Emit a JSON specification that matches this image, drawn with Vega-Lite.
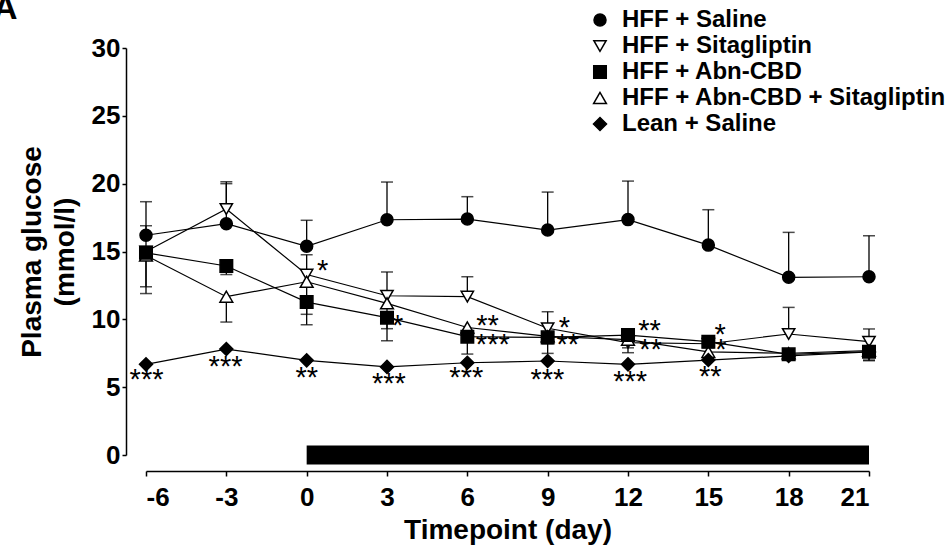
{
  "$schema": "https://vega.github.io/schema/vega-lite/v6.json",
  "width": 723,
  "height": 407,
  "autosize": {"type": "none"},
  "padding": {"left": 146, "top": 48, "right": 81, "bottom": 94},
  "background": "white",
  "title": {"text": "A", "anchor": "start", "frame": "group", "fontSize": 34, "fontWeight": "bold", "font": "Liberation Sans", "color": "black", "dx": -153, "dy": 45, "baseline": "alphabetic", "offset": 0},
  "config": {"view": {"stroke": null}, "font": "Liberation Sans"},
  "datasets": {
    "glucose": [
      {"day": -6, "group": "HFF + Saline", "mean": 16.2, "err": 18.67},
      {"day": -3, "group": "HFF + Saline", "mean": 17.05, "err": 20.0},
      {"day": 0, "group": "HFF + Saline", "mean": 15.38, "err": 17.3},
      {"day": 3, "group": "HFF + Saline", "mean": 17.34, "err": 20.12},
      {"day": 6, "group": "HFF + Saline", "mean": 17.39, "err": 19.04},
      {"day": 9, "group": "HFF + Saline", "mean": 16.58, "err": 19.38},
      {"day": 12, "group": "HFF + Saline", "mean": 17.35, "err": 20.19},
      {"day": 15, "group": "HFF + Saline", "mean": 15.47, "err": 18.08},
      {"day": 18, "group": "HFF + Saline", "mean": 13.1, "err": 16.41},
      {"day": 21, "group": "HFF + Saline", "mean": 13.14, "err": 16.16},
      {"day": -6, "group": "HFF + Sitagliptin", "mean": 15.0, "err": 16.9},
      {"day": -3, "group": "HFF + Sitagliptin", "mean": 18.13, "err": 20.14},
      {"day": 0, "group": "HFF + Sitagliptin", "mean": 13.3, "err": 14.76},
      {"day": 3, "group": "HFF + Sitagliptin", "mean": 11.74, "err": 13.49},
      {"day": 6, "group": "HFF + Sitagliptin", "mean": 11.67, "err": 13.14},
      {"day": 9, "group": "HFF + Sitagliptin", "mean": 9.34, "err": 10.56},
      {"day": 12, "group": "HFF + Sitagliptin", "mean": 8.28, "err": 8.7},
      {"day": 15, "group": "HFF + Sitagliptin", "mean": 8.2, "err": 8.6},
      {"day": 18, "group": "HFF + Sitagliptin", "mean": 8.92, "err": 10.88},
      {"day": 21, "group": "HFF + Sitagliptin", "mean": 8.35, "err": 9.29},
      {"day": -6, "group": "HFF + Abn-CBD + Sitagliptin", "mean": 14.7, "err": 11.9},
      {"day": -3, "group": "HFF + Abn-CBD + Sitagliptin", "mean": 11.67, "err": 9.8},
      {"day": 0, "group": "HFF + Abn-CBD + Sitagliptin", "mean": 12.77, "err": 9.6},
      {"day": 3, "group": "HFF + Abn-CBD + Sitagliptin", "mean": 11.18, "err": 8.42},
      {"day": 6, "group": "HFF + Abn-CBD + Sitagliptin", "mean": 9.4, "err": 8.9},
      {"day": 9, "group": "HFF + Abn-CBD + Sitagliptin", "mean": 8.75, "err": 8.2},
      {"day": 12, "group": "HFF + Abn-CBD + Sitagliptin", "mean": 8.5, "err": 7.54},
      {"day": 15, "group": "HFF + Abn-CBD + Sitagliptin", "mean": 7.6, "err": 7.2},
      {"day": 18, "group": "HFF + Abn-CBD + Sitagliptin", "mean": 7.5, "err": 7.1},
      {"day": 21, "group": "HFF + Abn-CBD + Sitagliptin", "mean": 7.7, "err": 6.95},
      {"day": -6, "group": "HFF + Abn-CBD", "mean": 14.9, "err": 12.4},
      {"day": -3, "group": "HFF + Abn-CBD", "mean": 13.93, "err": 13.3},
      {"day": 0, "group": "HFF + Abn-CBD", "mean": 11.27, "err": 10.37},
      {"day": 3, "group": "HFF + Abn-CBD", "mean": 10.12, "err": 9.31},
      {"day": 6, "group": "HFF + Abn-CBD", "mean": 8.72, "err": 7.44},
      {"day": 9, "group": "HFF + Abn-CBD", "mean": 8.67, "err": 7.49},
      {"day": 12, "group": "HFF + Abn-CBD", "mean": 8.84, "err": 7.9},
      {"day": 15, "group": "HFF + Abn-CBD", "mean": 8.35, "err": 7.9},
      {"day": 18, "group": "HFF + Abn-CBD", "mean": 7.42, "err": 7.0},
      {"day": 21, "group": "HFF + Abn-CBD", "mean": 7.61, "err": 7.0},
      {"day": -6, "group": "Lean + Saline", "mean": 6.68, "err": 6.68},
      {"day": -3, "group": "Lean + Saline", "mean": 7.81, "err": 7.81},
      {"day": 0, "group": "Lean + Saline", "mean": 6.98, "err": 6.98},
      {"day": 3, "group": "Lean + Saline", "mean": 6.49, "err": 6.49},
      {"day": 6, "group": "Lean + Saline", "mean": 6.8, "err": 6.8},
      {"day": 9, "group": "Lean + Saline", "mean": 6.93, "err": 6.93},
      {"day": 12, "group": "Lean + Saline", "mean": 6.68, "err": 6.68},
      {"day": 15, "group": "Lean + Saline", "mean": 7.0, "err": 7.0},
      {"day": 18, "group": "Lean + Saline", "mean": 7.3, "err": 7.3},
      {"day": 21, "group": "Lean + Saline", "mean": 7.6, "err": 7.6}
    ],
    "stars": [
      {"day": -5.98, "level": 5.55, "label": "***"},
      {"day": -3.03, "level": 6.46, "label": "***"},
      {"day": 0, "level": 5.67, "label": "**"},
      {"day": 3.07, "level": 5.26, "label": "***"},
      {"day": 5.96, "level": 5.65, "label": "***"},
      {"day": 8.99, "level": 5.55, "label": "***"},
      {"day": 12.08, "level": 5.38, "label": "***"},
      {"day": 15.07, "level": 5.72, "label": "**"},
      {"day": 0.6, "level": 13.58, "label": "*"},
      {"day": 3.4, "level": 9.48, "label": "*"},
      {"day": 6.75, "level": 9.53, "label": "**"},
      {"day": 6.95, "level": 8.13, "label": "***"},
      {"day": 9.62, "level": 9.36, "label": "*"},
      {"day": 9.75, "level": 8.13, "label": "**"},
      {"day": 12.8, "level": 9.11, "label": "**"},
      {"day": 12.84, "level": 7.71, "label": "**"},
      {"day": 15.44, "level": 8.87, "label": "*"},
      {"day": 15.47, "level": 7.76, "label": "*"}
    ],
    "treatment": [
      {"start": 0, "end": 21, "level": 0}
    ]
  },
  "layer": [
    {
      "data": {"name": "treatment"},
      "mark": {"type": "rule", "color": "black", "strokeWidth": 19, "strokeCap": "butt"},
      "encoding": {
        "x": {"field": "start", "type": "quantitative", "scale": {"domain": [-6, 21], "nice": false, "zero": false},
          "axis": {"values": [-6, -3, 0, 3, 6, 9, 12, 15, 18, 21], "labelExpr": "toString(datum.value)", "offset": 16, "tickSize": 5, "labelPadding": 8, "labelFontSize": 26, "labelFontWeight": "bold", "labelColor": "black", "labelFont": "Liberation Sans", "title": "Timepoint (day)", "titleFontSize": 28, "titleFontWeight": "bold", "titleColor": "black", "titleFont": "Liberation Sans", "titlePadding": 6, "grid": false, "domainColor": "black", "tickColor": "black", "domainWidth": 1.5, "tickWidth": 1.5}},
        "x2": {"field": "end"},
        "y": {"field": "level", "type": "quantitative", "scale": {"domain": [0, 30], "nice": false, "zero": false},
          "axis": {"values": [0, 5, 10, 15, 20, 25, 30], "offset": 20, "tickSize": 4, "labelPadding": 2, "labelFontSize": 26, "labelFontWeight": "bold", "labelColor": "black", "labelFont": "Liberation Sans", "title": ["Plasma glucose", "(mmol/l)"], "titleFontSize": 28, "titleFontWeight": "bold", "titleColor": "black", "titleFont": "Liberation Sans", "titlePadding": 12, "titleLineHeight": 33, "grid": false, "domainColor": "black", "tickColor": "black", "domainWidth": 1.5, "tickWidth": 1.5}}
      }
    },
    {
      "data": {"name": "glucose"},
      "mark": {"type": "rule", "color": "black", "strokeWidth": 1.3},
      "encoding": {
        "x": {"field": "day", "type": "quantitative"},
        "y": {"field": "mean", "type": "quantitative"},
        "y2": {"field": "err"}
      }
    },
    {
      "data": {"name": "glucose"},
      "mark": {"type": "tick", "orient": "horizontal", "color": "black", "size": 12, "thickness": 1.5},
      "encoding": {
        "x": {"field": "day", "type": "quantitative"},
        "y": {"field": "err", "type": "quantitative"}
      }
    },
    {
      "data": {"name": "glucose"},
      "mark": {"type": "line", "color": "black", "strokeWidth": 1.2},
      "encoding": {
        "x": {"field": "day", "type": "quantitative"},
        "y": {"field": "mean", "type": "quantitative"},
        "detail": {"field": "group"}
      }
    },
    {
      "data": {"name": "glucose"},
      "mark": {"type": "point", "filled": true, "stroke": "black", "strokeWidth": 1.5, "opacity": 1},
      "encoding": {
        "x": {"field": "day", "type": "quantitative"},
        "y": {"field": "mean", "type": "quantitative"},
        "shape": {"field": "group", "type": "nominal",
          "scale": {"domain": ["HFF + Saline", "HFF + Sitagliptin", "HFF + Abn-CBD", "HFF + Abn-CBD + Sitagliptin", "Lean + Saline"], "range": ["circle", "triangle-down", "square", "triangle-up", "diamond"]},
          "legend": {"orient": "none", "legendX": 442, "legendY": -40, "title": null, "labelFontSize": 24, "labelFontWeight": "bold", "labelFont": "Liberation Sans", "labelColor": "black", "labelLimit": 0, "labelOffset": 10, "rowPadding": 2, "padding": 0, "symbolStrokeColor": "black", "symbolStrokeWidth": 1.5}},
        "fill": {"field": "group", "type": "nominal",
          "scale": {"domain": ["HFF + Saline", "HFF + Sitagliptin", "HFF + Abn-CBD", "HFF + Abn-CBD + Sitagliptin", "Lean + Saline"], "range": ["black", "white", "black", "white", "black"]}},
        "size": {"field": "group", "type": "nominal",
          "scale": {"domain": ["HFF + Saline", "HFF + Sitagliptin", "HFF + Abn-CBD", "HFF + Abn-CBD + Sitagliptin", "Lean + Saline"], "range": [144, 170, 160, 170, 200]}}
      }
    },
    {
      "data": {"name": "stars"},
      "mark": {"type": "text", "color": "black", "fontSize": 29, "font": "Liberation Sans", "baseline": "middle", "align": "center"},
      "encoding": {
        "x": {"field": "day", "type": "quantitative"},
        "y": {"field": "level", "type": "quantitative"},
        "text": {"field": "label"}
      }
    }
  ]
}
